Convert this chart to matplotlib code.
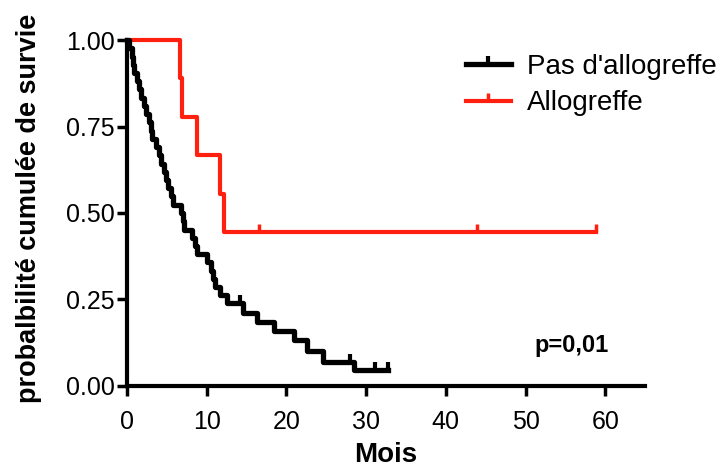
import numpy as np
import matplotlib
matplotlib.use('Agg')
import matplotlib.pyplot as plt
from matplotlib.lines import Line2D

plt.rcParams['font.family'] = ['Liberation Sans', 'DejaVu Sans']

# ---------------------------------------------------------------
# Données
# ---------------------------------------------------------------
# Pas d'allogreffe : temps des marches et survie après chaque marche
noallo_t = [0, 0.3, 0.6, 0.8, 0.9, 1.2, 1.5, 1.8, 2.1, 2.4, 2.7, 3.0, 3.2,
            3.6, 4.0, 4.3, 4.6, 4.9, 5.2, 5.5, 5.8, 6.8, 7.0, 7.1, 8.2, 8.5,
            8.8, 10.0, 10.5, 10.8, 11.1, 11.7, 12.6, 14.5, 16.3, 18.4, 21.0,
            22.6, 24.6, 28.5]
noallo_s = [1.0, 0.976, 0.952, 0.929, 0.905, 0.881, 0.857, 0.833, 0.810,
            0.786, 0.762, 0.738, 0.714, 0.690, 0.667, 0.643, 0.619, 0.595,
            0.571, 0.548, 0.524, 0.500, 0.476, 0.452, 0.429, 0.405, 0.381,
            0.357, 0.333, 0.310, 0.286, 0.262, 0.241, 0.212, 0.186, 0.160,
            0.133, 0.100, 0.070, 0.046]
noallo_fin = 32.7
noallo_cens_t = [14.2, 28.0, 31.1, 32.7]
noallo_cens_s = [0.241, 0.070, 0.046, 0.046]

# Allogreffe
allo_t = [0, 6.7, 6.9, 8.8, 11.7, 12.2]
allo_s = [1.0, 0.889, 0.778, 0.667, 0.556, 0.444]
allo_fin = 58.8
allo_cens_t = [16.5, 43.9, 58.8]
allo_cens_s = [0.444, 0.444, 0.444]

NOIR = 'black'
ROUGE = '#ff2010'

# ---------------------------------------------------------------
# Figure
# ---------------------------------------------------------------
fig = plt.figure(figsize=(7.24, 4.69), dpi=100, facecolor='white')
ax = fig.add_axes([0.1754, 0.177, 0.7156, 0.7377])

ax.step(allo_t + [allo_fin], allo_s + [allo_s[-1]], where='post',
        color=ROUGE, lw=3, clip_on=False, zorder=3)
ax.plot(allo_cens_t, allo_cens_s, ls='none', marker=2, ms=6, mew=2.5,
        color=ROUGE, clip_on=False, zorder=3)

ax.step(noallo_t + [noallo_fin], noallo_s + [noallo_s[-1]], where='post',
        color=NOIR, lw=3.8, clip_on=False, zorder=4)
ax.plot(noallo_cens_t, noallo_cens_s, ls='none', marker=2, ms=6, mew=3,
        color=NOIR, clip_on=False, zorder=4)

ax.set_xlim(0, 65)
ax.set_ylim(0, 1.0)
ax.set_xticks(range(0, 61, 10))
ax.set_yticks([0, 0.25, 0.5, 0.75, 1.0])
ax.set_yticklabels(['0.00', '0.25', '0.50', '0.75', '1.00'])

for s in ['top', 'right']:
    ax.spines[s].set_visible(False)
for s in ['left', 'bottom']:
    ax.spines[s].set_linewidth(3)
ax.tick_params(width=2.5, length=7, labelsize=18)
ax.tick_params(axis='x', pad=10)
ax.tick_params(axis='y', pad=2)

ax.set_xlabel('Mois', fontsize=20, fontweight='bold')
ax.xaxis.set_label_coords(0.5, -0.162)
ax.set_ylabel('probalbilité cumulée de survie', fontsize=19.5,
              fontweight='bold')
ax.yaxis.set_label_coords(-0.165, 0.514)

ax.text(0.859, 0.118, 'p=0,01', transform=ax.transAxes, fontsize=17,
        fontweight='bold', ha='center', va='center')

handles = [
    Line2D([], [], color=NOIR, lw=3.8, marker=2, ms=6, mew=3),
    Line2D([], [], color=ROUGE, lw=3, marker=2, ms=6, mew=2.5),
]
leg = ax.legend(handles, ["Pas d'allogreffe", 'Allogreffe'],
                loc='upper left', bbox_to_anchor=(0.644, 0.885),
                bbox_transform=fig.transFigure, frameon=False,
                fontsize=20, handlelength=1.6, handletextpad=0.6,
                labelspacing=0.38, borderpad=0, numpoints=1,
                borderaxespad=0)

fig.savefig('out.png', dpi=100, facecolor='white')
